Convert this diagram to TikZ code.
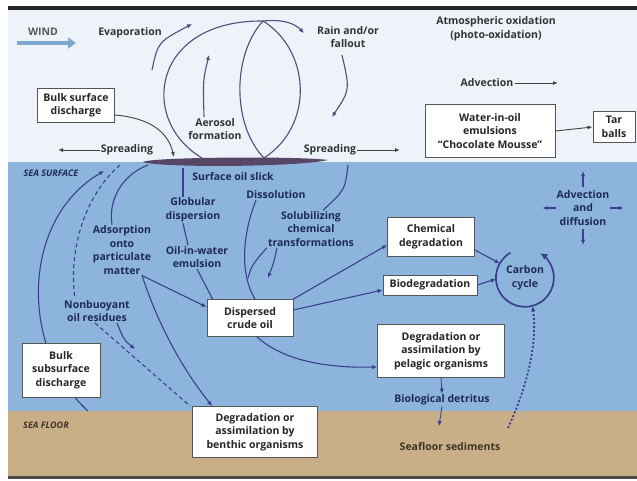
\documentclass[tikz,border=0pt]{standalone}
\usepackage{fontspec}
\setmainfont{Open Sans}
\usetikzlibrary{arrows.meta,calc}
\definecolor{sky}{HTML}{EEF3F9}
\definecolor{sea}{HTML}{8DB4DC}
\definecolor{sand}{HTML}{C8AF88}
\definecolor{slickc}{HTML}{574665}
\definecolor{flow}{HTML}{3A3F8E}
\definecolor{airflow}{HTML}{5A4A7C}
\definecolor{navy}{HTML}{1E2A55}
\definecolor{windc}{HTML}{7FA8D0}
\definecolor{boxline}{HTML}{555555}
\definecolor{mud}{HTML}{3E3325}

\begin{document}
\begin{tikzpicture}[x=1pt,y=-1pt,
	every node/.style={font=\bfseries\fontsize{10.5}{13.5}\selectfont, align=center, inner sep=1pt},
	box/.style={draw=boxline, fill=white, line width=0.9pt, inner sep=2pt, text=black!85},
	airtxt/.style={text=black!80},
	seatxt/.style={text=navy},
	tag/.style={font=\bfseries\itshape\fontsize{9}{10}\selectfont},
	airline/.style={draw=airflow, line width=1.1pt},
	air/.style={airline, -{Latex[length=5pt,width=4.5pt]}},
	darkarr/.style={draw=black!75, line width=0.9pt, -{Latex[length=5pt,width=4pt]}},
	flowline/.style={draw=flow, line width=1.1pt},
	flowarr/.style={flowline, -{Latex[length=5pt,width=4.5pt]}},
	]
			%%%%% START %%%%%
			
			\fill[white] (0,0) rectangle (637,481);
			\fill[black!85] (8,6) rectangle (637,10);
			\fill[sky] (8,10) rectangle (637,162);
			\fill[sea] (8,162) rectangle (637,411);
			\fill[sand] (8,411) rectangle (637,476);
			\fill[black!70] (8,476) rectangle (637,479);
			
			% surface oil slick
			\fill[slickc] (143,162) .. controls (150,157) and (300,156) .. (328,160) .. controls (300,167) and (160,168) .. (143,162) -- cycle;
			
			\coordinate (windA) at (17,43);
			\coordinate (windB) at (76,43);
			\coordinate (evapA) at (152,70);
			\coordinate (evapB) at (192,24);
			\coordinate (aeroB) at (209,55);
			\coordinate (rainA) at (342,55);
			\coordinate (rainB) at (332,117);
			\coordinate (lensTop) at (263,21);
			\coordinate (lensBot) at (264,158);
			\coordinate (outerBot) at (202,158);
			\coordinate (rainTip) at (304,33);
			\coordinate (bsdEnd) at (174,157);
			\coordinate (spreadLEnd) at (58,150);
			\coordinate (spreadREnd) at (400,150);
			\coordinate (advEnd) at (558,83);
			\coordinate (slickAds) at (148,165);
			\coordinate (slickGlob) at (183,168);
			\coordinate (surfSol) at (348,165);
			\coordinate (surfDash) at (120,165);
			\coordinate (floorA) at (88,411);
			\coordinate (surfB) at (104,171);
			\coordinate (nonbEnd) at (135,349);
			\coordinate (dissBranch) at (248,278);
			\coordinate (solEnd) at (268,278);
			\coordinate (detEnd) at (439,426);
			\coordinate (sedA) at (508,428);
			
			% subsurface discharge rising to the surface
			\draw[flowarr] (floorA) .. controls (20,350) and (20,220) .. (surfB);
			
			% air
			\node[airtxt, text=black!65] (windtxt) at (43,32) {WIND};
			\node[airtxt] (evap) at (130,33) {Evaporation};
			\node[airtxt] (rain) at (348,37) {Rain and/or\\fallout};
			\node[airtxt] (atmox) at (496,29) {Atmospheric oxidation\\(photo-oxidation)};
			\node[airtxt] (advtxt) at (487,83) {Advection};
			\node[airtxt] (aero) at (215,129) {Aerosol\\formation};
			\node[airtxt] (spreadL) at (127,150) {Spreading};
			\node[airtxt] (spreadR) at (330,150) {Spreading};
			\node[box, minimum width=77, minimum height=34] (bsd) at (76,105) {Bulk surface\\discharge};
			\node[box, minimum width=130, minimum height=53] (wio) at (490,131) {Water-in-oil\\emulsions\\“Chocolate Mousse”};
			\node[box, minimum width=42, minimum height=31] (tar) at (614,127) {Tar\\balls};
			
			% sea
			\node[seatxt, tag] (seasurf) at (51,173) {SEA SURFACE};
			\node[seatxt] (slicklbl) at (233,177) {Surface oil slick};
			\node[seatxt] (glob) at (193,210) {Globular\\dispersion};
			\node[seatxt] (oilw) at (197,257) {Oil-in-water\\emulsion};
			\node[seatxt] (ads) at (122,250) {Adsorption\\onto\\particulate\\matter};
			\node[seatxt] (diss) at (276,195) {Dissolution};
			\node[seatxt] (sol) at (311,229) {Solubilizing\\chemical\\transformations};
			\node[seatxt] (nonb) at (97,311) {Nonbuoyant\\oil residues};
			\node[seatxt] (advdiff) at (583,208) {Advection\\and\\diffusion};
			\node[box, minimum width=87, minimum height=39] (chem) at (431,237) {Chemical\\degradation};
			\node[box, minimum width=94, minimum height=20] (bio) at (430,285) {Biodegradation};
			\node[seatxt, circle, minimum size=58] (cyc) at (525,278) {Carbon\\cycle};
			\node[box, minimum width=86, minimum height=37] (disp) at (250,318) {Dispersed\\crude oil};
			\node[box, minimum width=127, minimum height=53] (pel) at (441,351) {Degradation or\\assimilation by\\pelagic organisms};
			\node[seatxt] (biodet) at (442,400) {Biological detritus};
			\node[box, minimum width=78, minimum height=54] (bssd) at (61,370) {Bulk\\subsurface\\discharge};
			
			% sea floor
			\node[text=mud, tag] (seafloor) at (46,425) {SEA FLOOR};
			\node[text=mud] (sed) at (450,447) {Seafloor sediments};
			\node[box, minimum width=125, minimum height=51] (benth) at (255,432) {Degradation or\\assimilation by\\benthic organisms};
			
			% air arrows
			\draw[windc, line width=3.5pt, -{Triangle[length=8pt,width=11pt]}] (windA) -- (windB);
			\draw[air] (evapA) .. controls (158,42) .. (evapB);
			\draw[airline] (outerBot) .. controls (138,120) and (152,20) .. (lensTop);
			\draw[air] (lensTop) .. controls (285,19) and (295,24) .. (rainTip);
			\draw[airline] (lensTop) .. controls (232,55) and (232,125) .. (lensBot);
			\draw[airline] (lensTop) .. controls (310,50) and (315,125) .. (lensBot);
			\draw[air] ([xshift=-11pt]aero.north) .. controls (203,80) .. (aeroB);
			\draw[air] (rainA) .. controls (350,90) .. (rainB);
			\draw[darkarr] ([yshift=-10pt]bsd.east) .. controls (150,118) and (168,132) .. (bsdEnd);
			\draw[darkarr] (spreadL.west) -- (spreadLEnd);
			\draw[darkarr] (spreadR.east) -- (spreadREnd);
			\draw[darkarr] (advtxt.east) -- (advEnd);
			\draw[darkarr] (wio.east) -- (tar.west);
			
			% sea arrows
			\draw[flowline, dash pattern=on 4pt off 3pt] (surfDash) .. controls (85,195) and (68,250) .. ([xshift=-22pt]nonb.north);
			\draw[flowline, dash pattern=on 4pt off 3pt] ([xshift=-2pt]nonb.south) -- ([xshift=-2pt]benth.north west);
			\draw[flowarr] ([xshift=20pt]nonb.south) .. controls (124,340) .. (nonbEnd);
			\draw[flowline] (slickAds) .. controls (122,175) and (108,200) .. ([xshift=-10pt]ads.north);
			\draw[flowarr] ([xshift=20pt]ads.south) -- ([yshift=11pt]disp.west);
			\draw[flowarr] ([xshift=20pt]ads.south) .. controls (160,330) and (185,372) .. ([xshift=20pt]benth.north west);
			\draw[flowline] (slickGlob) -- ([xshift=-10pt]glob.north);
			\draw[flowline] ([xshift=-10pt]glob.south) -- ([xshift=-9pt]oilw.north);
			\draw[flowline] (oilw.south) -- ([xshift=6pt]disp.north west);
			\draw[flowline] ([xshift=-20pt]diss.south) .. controls (242,235) and (240,275) .. ([xshift=5pt]disp.north);
			\draw[flowline] (dissBranch) .. controls (252,265) .. (sol.south west);
			\draw[flowarr] ([xshift=-34pt]sol.south) .. controls (274,262) .. (solEnd);
			\draw[flowline] (surfSol) .. controls (345,190) .. ([xshift=12pt]sol.north);
			\draw[flowarr] (disp.north east) -- ([yshift=-8pt]chem.west);
			\draw[flowarr] ([yshift=8pt]disp.east) -- ([yshift=-5pt]bio.west);
			\draw[flowarr] ([xshift=7pt]disp.south) .. controls (285,362) and (330,368) .. ([yshift=-16pt]pel.west);
			\draw[flowarr] ([yshift=-13pt]chem.east) -- (cyc.150);
			\draw[flowarr] (bio.east) -- (cyc.182);
			\draw[flowarr, line width=0.8pt] (pel.south) -- (biodet.north);
			\draw[flowarr, line width=0.8pt] (biodet.south) -- (detEnd);
			\draw[flowarr, line width=1.8pt, dash pattern=on 2pt off 2pt] (sedA) .. controls (530,380) and (537,340) .. (cyc.285);
			\draw[flowarr] ([yshift=2pt]advdiff.north) -- ++(0,-16);
			\draw[flowarr] ([yshift=-2pt]advdiff.south) -- ++(0,16);
			\draw[flowarr] ([xshift=1pt]advdiff.west) -- ++(-14,0);
			\draw[flowarr] ([xshift=-1pt]advdiff.east) -- ++(14,0);
			\begin{scope}[y=1pt]
				\draw[flowline, line width=1.7pt, -{Latex[length=7pt,width=7pt]}] (cyc.120) arc[start angle=120, end angle=418, radius=29];
			\end{scope}
			
			%%%%% END %%%%%
\end{tikzpicture}
\end{document}
